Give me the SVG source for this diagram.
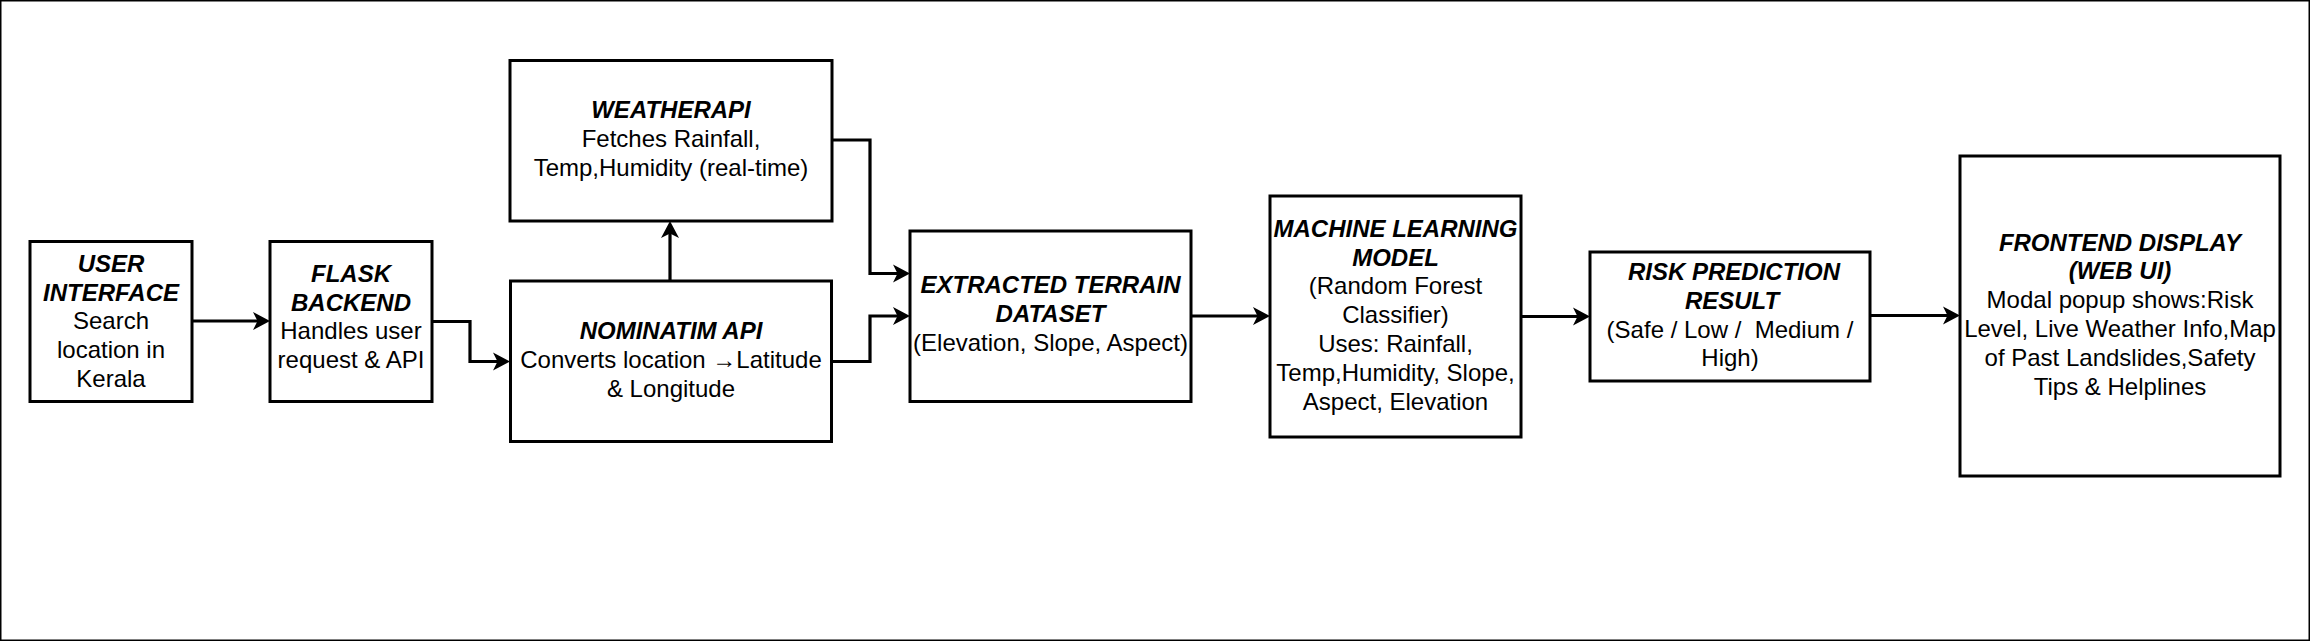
<svg xmlns="http://www.w3.org/2000/svg" width="2311" height="642" viewBox="0 0 2311 642">
<style>
.box{fill:#fff;stroke:#000;stroke-width:3}
.t{font-family:"Liberation Sans",Arial,sans-serif;font-size:24px;fill:#000;text-anchor:middle}
.b{font-weight:bold;font-style:italic}
.c{fill:none;stroke:#000;stroke-width:3.2}
</style>
<defs>
<marker id="arr" markerUnits="userSpaceOnUse" markerWidth="18" markerHeight="18" refX="7" refY="9" orient="auto" overflow="visible">
<path d="M0,0 L17,9 L0,18 L4.5,9 Z" fill="#000"/>
</marker>
</defs>
<rect x="0.75" y="0.75" width="2308.5" height="639.5" fill="#fff" stroke="#000" stroke-width="1.5"/>
<g id="connectors">
<path class="c" d="M192,321 H260" marker-end="url(#arr)"/>
<path class="c" d="M432,321.5 H470 V361.5 H500" marker-end="url(#arr)"/>
<path class="c" d="M670,281 V231" marker-end="url(#arr)"/>
<path class="c" d="M832,140 H870 V273.5 H900" marker-end="url(#arr)"/>
<path class="c" d="M832,361.5 H870 V316 H900" marker-end="url(#arr)"/>
<path class="c" d="M1191,316 H1260" marker-end="url(#arr)"/>
<path class="c" d="M1521,316.5 H1580" marker-end="url(#arr)"/>
<path class="c" d="M1870,315.5 H1950" marker-end="url(#arr)"/>
</g>
<g id="user-interface">
<rect class="box" x="30" y="241.5" width="162" height="160"/>
<text class="t"><tspan class="b" x="111" y="272">USER</tspan><tspan class="b" x="111" y="300.5">INTERFACE</tspan><tspan x="111" y="329.3">Search</tspan><tspan x="111" y="358.1">location in</tspan><tspan x="111" y="386.9">Kerala</tspan></text>
</g>
<g id="flask-backend">
<rect class="box" x="270" y="241.5" width="162" height="160"/>
<text class="t"><tspan class="b" x="351" y="281.7">FLASK</tspan><tspan class="b" x="351" y="310.5">BACKEND</tspan><tspan x="351" y="339.3">Handles user</tspan><tspan x="351" y="368.1">request &amp; API</tspan></text>
</g>
<g id="weatherapi">
<rect class="box" x="510" y="60.5" width="322" height="160.5"/>
<text class="t"><tspan class="b" x="671" y="118.3">WEATHERAPI</tspan><tspan x="671" y="147.1">Fetches Rainfall,</tspan><tspan x="671" y="175.9">Temp,Humidity (real-time)</tspan></text>
</g>
<g id="nominatim-api">
<rect class="box" x="510.5" y="281" width="321" height="160.5"/>
<text class="t"><tspan class="b" x="671" y="338.5">NOMINATIM API</tspan><tspan x="671" y="368">Converts location →Latitude</tspan><tspan x="671" y="396.6">&amp; Longitude</tspan></text>
</g>
<g id="terrain-dataset">
<rect class="box" x="910" y="231" width="281" height="170.5"/>
<text class="t"><tspan class="b" x="1050.5" y="293.3">EXTRACTED TERRAIN</tspan><tspan class="b" x="1050.5" y="322.1">DATASET</tspan><tspan x="1050.5" y="350.9">(Elevation, Slope, Aspect)</tspan></text>
</g>
<g id="ml-model">
<rect class="box" x="1270" y="196" width="251" height="241"/>
<text class="t"><tspan class="b" x="1395.5" y="236.7">MACHINE LEARNING</tspan><tspan class="b" x="1395.5" y="265.5">MODEL</tspan><tspan x="1395.5" y="294.3">(Random Forest</tspan><tspan x="1395.5" y="323.1">Classifier)</tspan><tspan x="1395.5" y="351.9">Uses: Rainfall,</tspan><tspan x="1395.5" y="380.7">Temp,Humidity, Slope,</tspan><tspan x="1395.5" y="409.5">Aspect, Elevation</tspan></text>
</g>
<g id="risk-result">
<rect class="box" x="1590" y="252" width="280" height="129"/>
<text class="t"><tspan class="b" x="1734" y="280">RISK PREDICTION</tspan><tspan class="b" x="1732" y="308.8">RESULT</tspan><tspan x="1730" y="337.6" xml:space="preserve">(Safe / Low /  Medium /</tspan><tspan x="1730" y="366.4">High)</tspan></text>
</g>
<g id="frontend-display">
<rect class="box" x="1960" y="156" width="320" height="320"/>
<text class="t"><tspan class="b" x="2120" y="250.5">FRONTEND DISPLAY</tspan><tspan class="b" x="2120" y="279.3">(WEB UI)</tspan><tspan x="2120" y="308.1">Modal popup shows:Risk</tspan><tspan x="2120" y="336.9">Level, Live Weather Info,Map</tspan><tspan x="2120" y="365.7">of Past Landslides,Safety</tspan><tspan x="2120" y="394.5">Tips &amp; Helplines</tspan></text>
</g>
</svg>
